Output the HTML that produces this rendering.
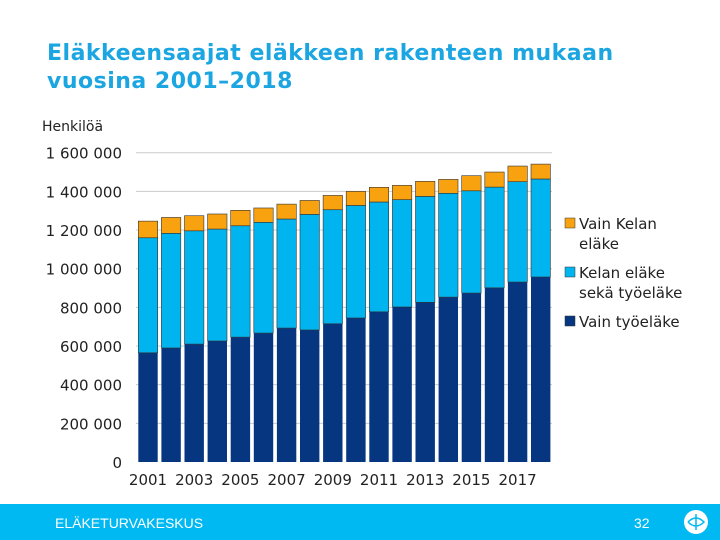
<!DOCTYPE html>
<html><head><meta charset="utf-8"><style>
body{margin:0;width:720px;height:540px;overflow:hidden;background:#fff;font-family:"DejaVu Sans","Liberation Sans",sans-serif;position:relative}
#title{position:absolute;left:47px;top:40px;font-size:22px;font-weight:bold;color:#1ba6e2;line-height:28px;letter-spacing:0.5px;font-family:"DejaVu Sans","Liberation Sans",sans-serif}
#footer{position:absolute;left:0;top:504px;width:720px;height:36px;background:#00b9f2}
</style></head><body>
<div id="title">Eläkkeensaajat eläkkeen rakenteen mukaan<br>vuosina 2001–2018</div>
<svg id="chart" width="720" height="504" style="position:absolute;left:0;top:0;font-family:'DejaVu Sans',sans-serif"></svg>
<div id="footer">
<span style="position:absolute;left:55px;top:11px;color:#fff;font-size:14px;font-family:'Liberation Sans',sans-serif">ELÄKETURVAKESKUS</span>
<span style="position:absolute;left:634px;top:11px;color:#fff;font-size:14px;font-family:'Liberation Sans',sans-serif">32</span>
<svg style="position:absolute;left:683px;top:5px" width="26" height="26"><circle cx="13" cy="13" r="12" fill="#fff"/><path d="M5 13 Q13 5 21 13 Q13 21 5 13 M13 5 L13 21" stroke="#00b9f2" stroke-width="1.5" fill="none"/></svg>
</div>
<script>
const years=[2001,2002,2003,2004,2005,2006,2007,2008,2009,2010,2011,2012,2013,2014,2015,2016,2017,2018];
const onlyEarnings=[565,590,610,626,646,667,693,683,715,745,777,802,826,853,874,901,931,957];
const both=[595,593,586,579,576,573,564,598,590,582,568,555,548,537,529,521,519,507];
const onlyKela=[86,82,78,78,80,74,77,72,74,73,76,74,78,72,78,78,81,77];
const yTicks=[0,200000,400000,600000,800000,1000000,1200000,1400000,1600000];
const tickLabels=["0","200 000","400 000","600 000","800 000","1 000 000","1 200 000","1 400 000","1 600 000"];
const xLabels=["2001","2003","2005","2007","2009","2011","2013","2015","2017"];
const svg=document.getElementById('chart');const NS='http://www.w3.org/2000/svg';
const y0=462,yTop=152.7,maxV=1600000,left=138.3,pitch=23.1,bw=19.4;
const yS=v=>y0-(v/maxV)*(y0-yTop);
const xS=i=>left+i*pitch;
function mk(t,a){const e=document.createElementNS(NS,t);for(const k in a)e.setAttribute(k,a[k]);svg.appendChild(e);return e;}
let t=mk('text',{x:42,y:131,'font-size':14,fill:'#222'});t.textContent='Henkilöä';


yTicks.forEach((v,i)=>{
 if(v>0){const l=mk('line',{x1:136,x2:552,y1:yS(v),y2:yS(v),stroke:'#ccc','stroke-width':1});
 
 }
 const tx=mk('text',{x:122,y:yS(v)+6,'font-size':15,fill:'#222','text-anchor':'end'});tx.textContent=tickLabels[i];
 
 
});
const cols=['#05367f','#00b4f0','#f8a20f'];
years.forEach((yr,i)=>{
 const vals=[onlyEarnings[i]*1000,both[i]*1000,onlyKela[i]*1000];let acc=0;
 vals.forEach((v,s)=>{const r=mk('rect',{x:xS(i),y:yS(acc+v),width:bw,height:yS(acc)-yS(acc+v),fill:cols[s],stroke:s==0?'none':'#333','stroke-width':0.6});
  
  acc+=v;});
});
xLabels.forEach((lb,j)=>{const tx=mk('text',{x:xS(j*2)+bw/2,y:485,'font-size':15,fill:'#222','text-anchor':'middle'});tx.textContent=lb;
 
 });
const leg=[['Vain Kelan','eläke',cols[2],224],['Kelan eläke','sekä työeläke',cols[1],273],['Vain työeläke','',cols[0],322]];
leg.forEach(L=>{const r=mk('rect',{x:565,y:L[3]-6,width:10,height:10,fill:L[2],stroke:'#333','stroke-width':0.5});
 
 
 const tx=mk('text',{x:579,y:L[3]+5,'font-size':15,fill:'#222'});tx.textContent=L[0];
 
 
 if(L[1]){const t2=mk('text',{x:579,y:L[3]+25,'font-size':15,fill:'#222'});t2.textContent=L[1];
 
 }
});
</script>
</body></html>
